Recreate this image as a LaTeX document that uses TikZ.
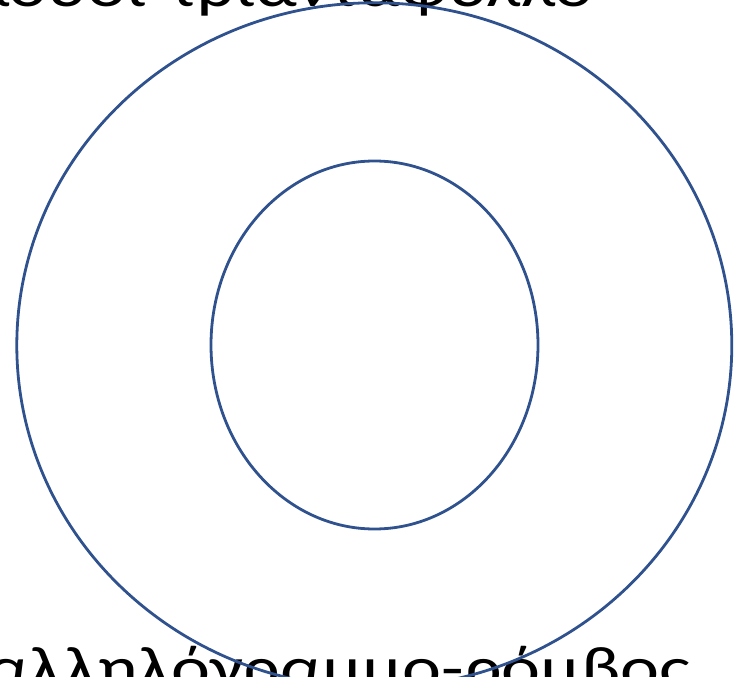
\documentclass[tikz,border=0pt]{standalone}
\usepackage{fontspec}
\setmainfont{Carlito}
\newfontfamily\widefont[FakeStretch=1.23]{Carlito}
\usetikzlibrary{shapes.geometric}
\definecolor{ringblue}{HTML}{2F528F}
\tikzset{
  ring/.style={ellipse, draw=ringblue, line width=2.8pt, inner sep=0pt},
  label/.style={inner sep=0pt, anchor=base east, font=\widefont\fontsize{60pt}{72pt}\selectfont, text=black}
}
\begin{document}
\begin{tikzpicture}[x=1pt, y=-1pt]
\useasboundingbox (0,0) rectangle (740,677);
\node[label] (toptext) at (594,7) {λουλούδι-τριαντάφυλλο};
\node[label] (bottomtext) at (690,688) {παραλληλόγραμμο-ρόμβος};
\node[ring, minimum width=715pt, minimum height=685pt] (outer) at (374.3,345.3) {};
\node[ring, minimum width=327pt, minimum height=368pt] (inner) at (374.5,345) {};
\end{tikzpicture}
\end{document}
